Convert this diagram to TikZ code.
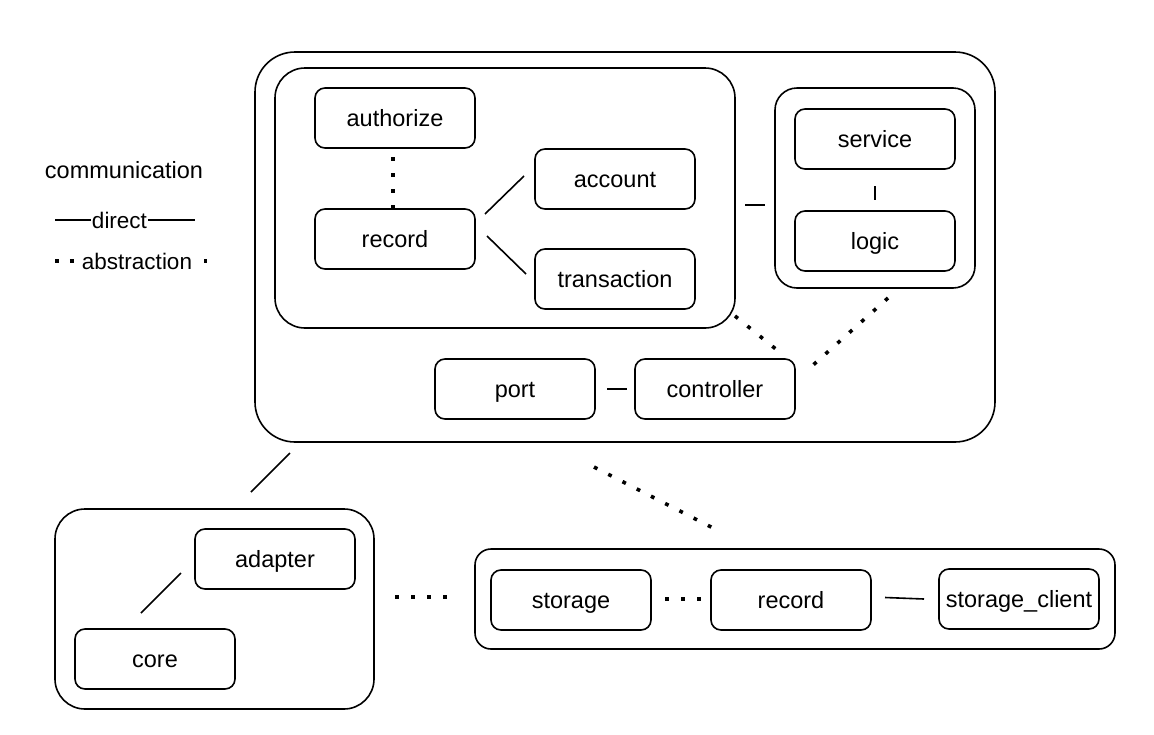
\documentclass[tikz,border=0pt]{standalone}
\usepackage{fontspec}
\setmainfont{Liberation Sans}
\begin{document}
\begin{tikzpicture}[x=1pt,y=-1pt,
  conn/.style={line width=1.6pt},
  dots/.style={line width=3.6pt,dash pattern=on 3.8pt off 12.2pt},
  box/.style={draw,line width=1.6pt,rounded corners=10pt,minimum width=160pt,minimum height=60pt,
    inner sep=0pt,font=\fontsize{23.5}{28}\selectfont,text height=19pt,text depth=2pt},
  container/.style={draw,line width=1.6pt,inner sep=0pt}]
\useasboundingbox (0,0) rectangle (1154,734);
\fill[white] (0,0) rectangle (1154,734);

% containers
\node[container,minimum width=740pt,minimum height=390pt,rounded corners=40pt] (outer) at (625,247) {};
\node[container,minimum width=460pt,minimum height=260pt,rounded corners=30pt] (inner) at (505,198) {};
\node[container,minimum width=200pt,minimum height=200pt,rounded corners=22pt] (right) at (875,188) {};
\node[container,minimum width=319pt,minimum height=200pt,rounded corners=30pt] (bleft) at (214.5,609) {};
\node[container,minimum width=640pt,minimum height=100pt,rounded corners=16pt] (bright) at (795,599) {};

% nodes
\node[box] (authorize) at (395,118) {authorize};
\node[box] (recordA) at (395,239) {record};
\node[box] (account) at (615,179) {account};
\node[box] (transaction) at (615,279) {transaction};
\node[box] (service) at (875,139) {service};
\node[box] (logic) at (875,241) {logic};
\node[box] (port) at (515,389) {port};
\node[box] (controller) at (715,389) {controller};
\node[box] (adapter) at (275,559) {adapter};
\node[box] (core) at (155,659) {core};
\node[box] (storage) at (571,600) {storage};
\node[box] (recordB) at (791,600) {record};
\node[box] (client) at (1019,599) {storage\_client};

% legend
\node[font=\fontsize{23.5}{28}\selectfont,text height=19pt,text depth=2pt,inner sep=0pt] (comm) at (124,170) {communication};
\coordinate (dl1) at (55,220); \coordinate (dl2) at (195,220);
\draw[conn] (dl1) -- (dl2);
\node[fill=white,inner sep=0.5pt,font=\fontsize{22.5}{27}\selectfont,text height=18pt,text depth=2pt] (direct) at (119.5,220) {direct};
\coordinate (al1) at (55,261); \coordinate (al2) at (207,261);
\draw[line width=3.6pt,dash pattern=on 3.6pt off 11.3pt] (al1) -- (al2);
\node[fill=white,inner sep=2pt,font=\fontsize{22.5}{27}\selectfont,text height=18pt,text depth=2pt] (abstr) at (137,261) {abstraction};

% solid connectors
\coordinate (s1a) at (485,214); \coordinate (s1b) at (524,176);
\draw[conn] (s1a) -- (s1b);
\coordinate (s2a) at (487,236); \coordinate (s2b) at (526,274);
\draw[conn] (s2a) -- (s2b);
\coordinate (s3a) at (745,205); \coordinate (s3b) at (765,205);
\draw[conn] (s3a) -- (s3b);
\coordinate (s4a) at (875,186); \coordinate (s4b) at (875,200);
\draw[conn] (s4a) -- (s4b);
\coordinate (s5a) at (607,389); \coordinate (s5b) at (627,389);
\draw[conn] (s5a) -- (s5b);
\coordinate (s6a) at (290,453); \coordinate (s6b) at (251,492);
\draw[conn] (s6a) -- (s6b);
\coordinate (s7a) at (181,573); \coordinate (s7b) at (141,613);
\draw[conn] (s7a) -- (s7b);
\coordinate (s8a) at (885,597.5); \coordinate (s8b) at (924,599);
\draw[conn] (s8a) -- (s8b);

% dotted connectors
\coordinate (d1a) at (393,157); \coordinate (d1b) at (393,209);
\draw[dots] (d1a) -- (d1b);
\coordinate (d2a) at (735,316); \coordinate (d2b) at (777,350);
\draw[dots] (d2a) -- (d2b);
\coordinate (d3a) at (888,298); \coordinate (d3b) at (812,366);
\draw[dots] (d3a) -- (d3b);
\coordinate (d4a) at (594,467); \coordinate (d4b) at (713,528);
\draw[dots] (d4a) -- (d4b);
\coordinate (d5a) at (395,597); \coordinate (d5b) at (448,597);
\draw[dots] (d5a) -- (d5b);
\coordinate (d6a) at (665,599); \coordinate (d6b) at (703,599);
\draw[dots] (d6a) -- (d6b);
\end{tikzpicture}
\end{document}
